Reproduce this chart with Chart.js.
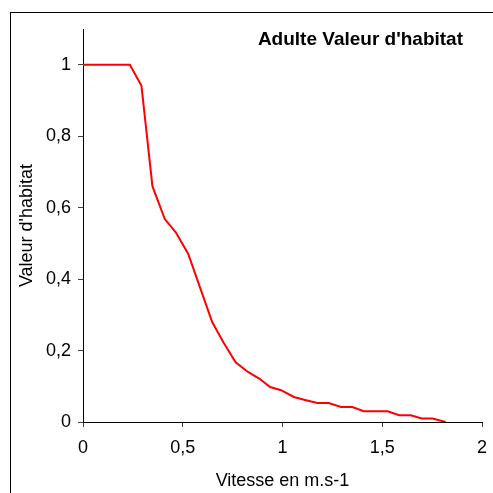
<!DOCTYPE html>
<html>
<head>
<meta charset="utf-8">
<script src="https://cdn.jsdelivr.net/npm/chart.js@4/dist/chart.umd.min.js"></script>
<style>
  html, body { margin: 0; padding: 0; background: #fff; }
  #wrap { position: relative; width: 493px; height: 493px; overflow: hidden; }
  #frame { position: absolute; left: 10px; top: 12px; width: 600px; height: 600px; border: 1px solid #000; pointer-events: none; }
  canvas { position: absolute; left: 0; top: 0; }
</style>
</head>
<body>
<div id="wrap">
  <canvas id="c" width="493" height="493"></canvas>
  <div id="frame"></div>
</div>
<script>
const chartTitle = "Adulte Valeur d'habitat";
const xTitle = "Vitesse en m.s-1";
const yTitle = "Valeur d'habitat";
const vitesse = [0, 0.235, 0.293, 0.348, 0.41, 0.465, 0.527, 0.648, 0.705, 0.765, 0.827, 0.885, 0.938, 0.993, 1.057, 1.118, 1.175, 1.232, 1.293, 1.35, 1.407, 1.467, 1.527, 1.585, 1.643, 1.698, 1.752, 1.818];
const valeur  = [1, 1, 0.941, 0.66, 0.568, 0.531, 0.471, 0.279, 0.222, 0.167, 0.14, 0.121, 0.098, 0.089, 0.07, 0.061, 0.053, 0.053, 0.042, 0.042, 0.03, 0.03, 0.03, 0.019, 0.019, 0.01, 0.01, 0];
const xTicks = [0, 0.5, 1, 1.5, 2];
const yTicks = [0, 0.2, 0.4, 0.6, 0.8, 1];

const FONT = "'Liberation Sans', Arial, sans-serif";
const fmt = v => String(Math.round(v * 10) / 10).replace('.', ',');

const titlePlugin = {
  id: 'innerTitle',
  afterDraw(chart) {
    const ctx = chart.ctx;
    ctx.save();
    ctx.font = "bold 19px " + FONT;
    ctx.fillStyle = '#000';
    ctx.textAlign = 'right';
    ctx.textBaseline = 'alphabetic';
    ctx.fillText(chartTitle, 463, 45);
    ctx.restore();
  }
};

new Chart(document.getElementById('c'), {
  type: 'line',
  data: {
    datasets: [{
      data: vitesse.map((x, i) => ({ x: x, y: valeur[i] })),
      borderColor: '#FF0000',
      borderWidth: 2,
      pointRadius: 0,
      tension: 0,
      fill: false
    }]
  },
  options: {
    responsive: false,
    animation: false,
    devicePixelRatio: 1,
    layout: { padding: { left: 0, right: 11, top: 29, bottom: 0 } },
    plugins: { legend: { display: false }, tooltip: { enabled: false } },
    scales: {
      x: {
        type: 'linear', min: 0, max: 2,
        afterBuildTicks: s => { s.ticks = xTicks.map(v => ({ value: v })); },
        afterFit: s => { s.height = 71; s.paddingRight = 0; s.paddingLeft = 0; },
        grid: { drawOnChartArea: false, drawTicks: true, tickLength: 5, color: '#444' },
        border: { display: true, color: '#000', width: 1 },
        ticks: { color: '#000', padding: 10, maxRotation: 0, font: { family: FONT, size: 18 }, callback: v => fmt(v) },
        title: { display: true, text: xTitle, color: '#000', font: { family: FONT, size: 18 }, padding: { top: 0, bottom: 1 } }
      },
      y: {
        type: 'linear', min: 0, max: 1.1,
        afterBuildTicks: s => { s.ticks = yTicks.map(v => ({ value: v })); },
        afterFit: s => { s.width = 83; s.paddingTop = 0; s.paddingBottom = 0; },
        grid: { drawOnChartArea: false, drawTicks: true, tickLength: 5, color: '#444' },
        border: { display: true, color: '#000', width: 1 },
        ticks: { color: '#000', padding: 7, font: { family: FONT, size: 18 }, callback: v => fmt(v) },
        title: { display: true, text: yTitle, color: '#000', font: { family: FONT, size: 18 }, padding: { top: 16, bottom: 0 } }
      }
    }
  },
  plugins: [titlePlugin]
});
</script>
</body>
</html>
